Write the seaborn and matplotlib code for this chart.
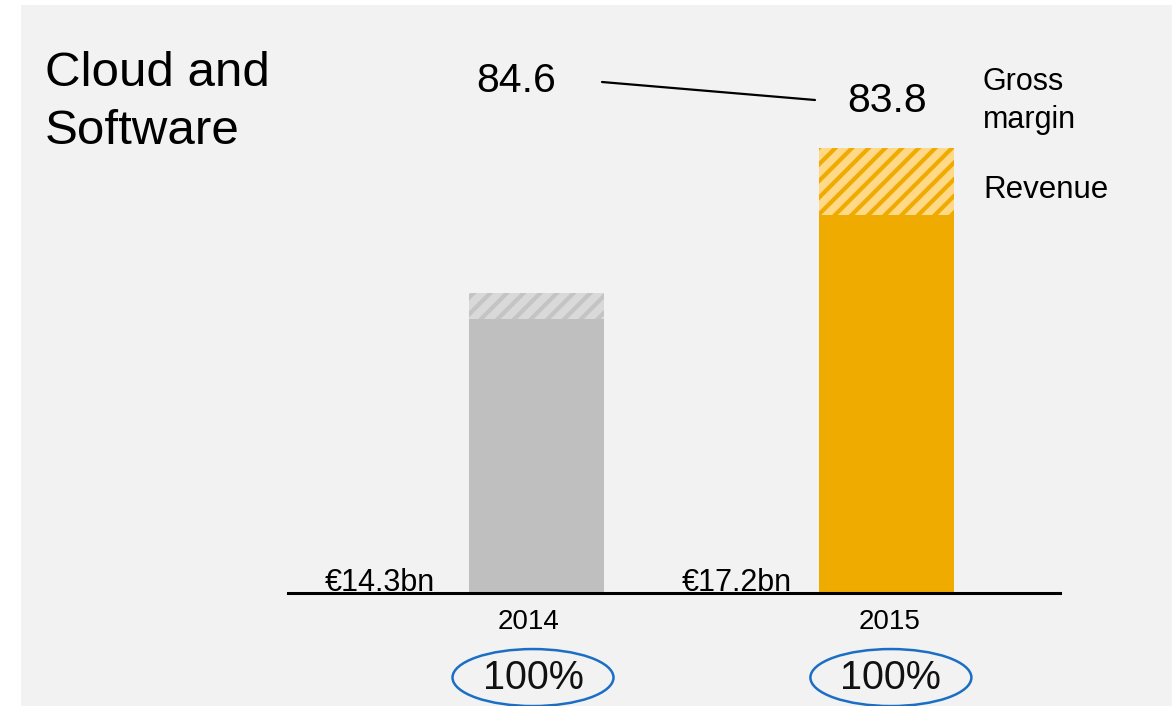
import matplotlib
matplotlib.use("Agg")
import matplotlib.pyplot as plt
from matplotlib.patches import Rectangle, Ellipse
import seaborn as sns
import pandas as pd

# ---- data (bar heights as drawn, in chart units) ----
years = ["2014", "2015"]
bar_total = [11.6, 17.2]        # full bar (revenue, hatched top)
bar_solid = [10.6, 14.6]        # solid part
revenue_labels = ["€14.3bn", "€17.2bn"]
gross_margin = ["84.6", "83.8"]
share_labels = ["100%", "100%"]
solid_colors = ["#bfbfbf", "#efab00"]
hatch_bg = ["#d9d9d9", "#ffd988"]
hatch_fg = ["#c4c4c4", "#efab00"]

sns.set_theme(style="white")
plt.rcParams["font.family"] = ["Liberation Sans", "DejaVu Sans"]
plt.rcParams["hatch.linewidth"] = 3.0
plt.rcParams["text.color"] = "black"

W, H = 1176, 706
fig = plt.figure(figsize=(W / 100, H / 100), dpi=100)
fig.patch.set_facecolor("white")

# panel background
fig.patches.append(Rectangle((21 / W, 0), (1172 - 21) / W, (706 - 5) / H,
                             transform=fig.transFigure, facecolor="#f2f2f2",
                             edgecolor="none", zorder=-10))

# axes: baseline at y=593 px, x from 288 to 1060 px, top at 148 px
ax = fig.add_axes([288 / W, (H - 593) / H, (1060 - 288) / W, (593 - 148) / H])
ax.set_facecolor("none")

df = pd.DataFrame({"year": years, "total": bar_total, "solid": bar_solid})
width = 135 / 349.5
sns.barplot(data=df, x="year", y="total", ax=ax, width=width,
            palette=hatch_bg, hue="year", legend=False, saturation=1)
n_tot = len(ax.patches)
for p, fg in zip(ax.patches[:n_tot], hatch_fg):
    p.set_hatch("//")
    p.set_edgecolor(fg)
    p.set_linewidth(0)
sns.barplot(data=df, x="year", y="solid", ax=ax, width=width,
            palette=solid_colors, hue="year", legend=False, saturation=1)
for p in ax.patches[n_tot:]:
    p.set_linewidth(0)

ax.set_xlim(-(536.5 - 288) / 349.5, 1 + (1060 - 886) / 349.5)
ax.set_ylim(0, max(bar_total))
ax.set_xlabel("")
ax.set_ylabel("")
ax.set_yticks([])
ax.set_xticks([])
for s in ["top", "right", "left"]:
    ax.spines[s].set_visible(False)
ax.spines["bottom"].set_color("black")
ax.spines["bottom"].set_linewidth(2.2)

def px(x, y):
    return (x / W, 1 - y / H)

# title
fig.text(*px(45, 74), "Cloud and", fontsize=35.5, ha="left", va="center")
fig.text(*px(45, 132), "Software", fontsize=35.5, ha="left", va="center")

# gross margin values and connector
fig.text(*px(516, 81), gross_margin[0], fontsize=29.5, ha="center", va="center")
fig.text(*px(887, 101), gross_margin[1], fontsize=29.5, ha="center", va="center")
fig.add_artist(plt.Line2D([px(602, 82)[0], px(815, 100)[0]],
                          [px(602, 82)[1], px(815, 100)[1]],
                          transform=fig.transFigure, color="black", lw=1.6))

# legend-like labels
fig.text(*px(983, 82), "Gross", fontsize=22, ha="left", va="center")
fig.text(*px(983, 120), "margin", fontsize=22, ha="left", va="center")
fig.text(*px(983, 190), "Revenue", fontsize=22.5, ha="left", va="center")

# revenue labels, year labels, share ellipses
rev_x = [380, 737]
year_dx = [-0.024, 0.011]
share_dx = [-0.01, 0.014]
for i in range(len(years)):
    fig.text(*px(rev_x[i], 591), revenue_labels[i], fontsize=22,
             ha="center", va="baseline")
    ax.text(i + year_dx[i], -0.065, years[i], fontsize=20, ha="center",
            va="center", transform=ax.get_xaxis_transform())
    ax.text(i + share_dx[i], -0.19, share_labels[i], fontsize=28.5,
            ha="center", va="center", transform=ax.get_xaxis_transform(),
            color="#111111")
    e = Ellipse((i + share_dx[i], -0.19), 161 / 349.5, 57 / 445,
                transform=ax.get_xaxis_transform(), fill=False,
                edgecolor="#1a6fc4", lw=1.8, clip_on=False)
    ax.add_patch(e)

fig.savefig("out.png", dpi=100)
